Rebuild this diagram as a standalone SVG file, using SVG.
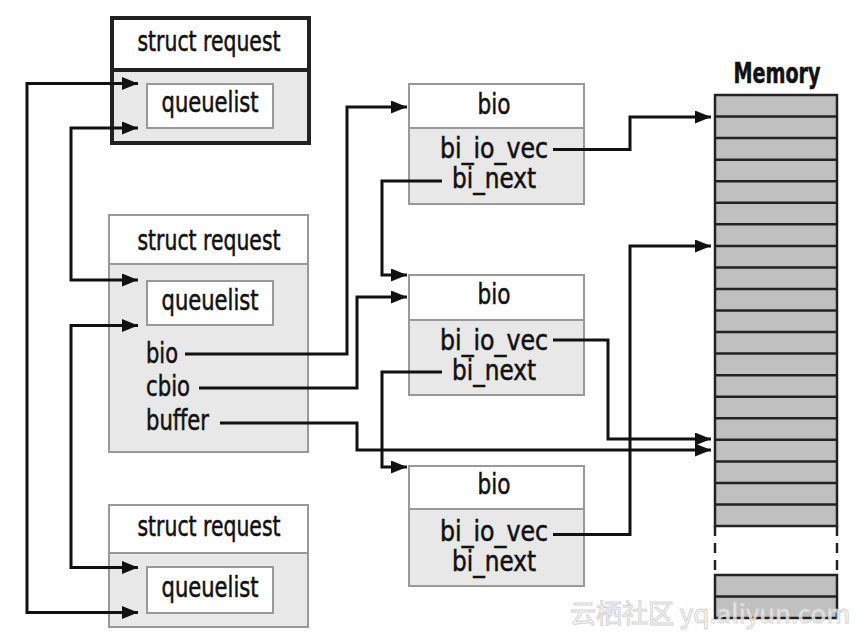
<svg xmlns="http://www.w3.org/2000/svg" width="865" height="638" viewBox="0 0 865 638">
<style>
text{font-family:"Liberation Sans Narrow","DejaVu Sans Condensed","Liberation Sans",sans-serif;font-size:28px;fill:#111;stroke:#111;stroke-width:0.5}
.c{text-anchor:middle}
.hdr{fill:#fff;stroke:#999;stroke-width:2}
.body{fill:#e8e8e8;stroke:#999;stroke-width:2}
.thick{fill:none;stroke:#222;stroke-width:4}
.ql{fill:#fff;stroke:#999;stroke-width:2}
.conn path{fill:none;stroke:#111;stroke-width:3}
.mem{fill:#c0c0c0;stroke:#222;stroke-width:2.5}
.row{stroke:#222;stroke-width:2.5}
.wm{font-family:"Noto Sans CJK SC","Liberation Sans",sans-serif;font-size:26px;fill:#fff;fill-opacity:0.7;stroke:#d4d4d4;stroke-width:1}
</style>
<defs>
<marker id="ah" markerUnits="userSpaceOnUse" markerWidth="17" markerHeight="13" refX="16" refY="6.5" orient="auto-start-reverse" viewBox="0 0 17 13">
<path d="M0,0 L16,6.5 L0,13 z" fill="#111"/>
</marker>
</defs>
<rect width="865" height="638" fill="#fff"/>

<g id="req1">
<rect class="hdr" x="112" y="18" width="197" height="52"/>
<rect class="body" x="112" y="70" width="197" height="73"/>
<rect class="thick" x="112" y="18" width="197" height="125"/>
<line x1="112" y1="70" x2="309" y2="70" stroke="#222" stroke-width="4"/>
<text class="c" x="209" y="51" textLength="143" lengthAdjust="spacingAndGlyphs">struct request</text>
<rect class="ql" x="147" y="84" width="126" height="44"/>
<text class="c" x="210" y="112" textLength="97" lengthAdjust="spacingAndGlyphs">queuelist</text>
</g>

<g id="req2">
<rect class="hdr" x="109" y="215" width="199" height="49"/>
<rect class="body" x="109" y="264" width="199" height="188"/>
<text class="c" x="209" y="250" textLength="143" lengthAdjust="spacingAndGlyphs">struct request</text>
<rect class="ql" x="147" y="281" width="126" height="44"/>
<text class="c" x="210" y="310" textLength="97" lengthAdjust="spacingAndGlyphs">queuelist</text>
<text x="146" y="363" textLength="32" lengthAdjust="spacingAndGlyphs">bio</text>
<text x="146" y="396" textLength="44" lengthAdjust="spacingAndGlyphs">cbio</text>
<text x="146" y="430" textLength="63" lengthAdjust="spacingAndGlyphs">buffer</text>
</g>

<g id="req3">
<rect class="hdr" x="109" y="505" width="199" height="48"/>
<rect class="body" x="109" y="553" width="199" height="74"/>
<text class="c" x="209" y="536" textLength="143" lengthAdjust="spacingAndGlyphs">struct request</text>
<rect class="ql" x="147" y="567" width="126" height="46"/>
<text class="c" x="210" y="597" textLength="97" lengthAdjust="spacingAndGlyphs">queuelist</text>
</g>

<g id="bio1">
<rect class="hdr" x="409" y="84" width="175" height="44"/>
<rect class="body" x="409" y="128" width="175" height="76"/>
<text class="c" x="494" y="114" textLength="33" lengthAdjust="spacingAndGlyphs">bio</text>
<text class="c" x="494" y="158" textLength="108" lengthAdjust="spacingAndGlyphs">bi_io_vec</text>
<text class="c" x="494" y="188" textLength="84" lengthAdjust="spacingAndGlyphs">bi_next</text>
</g>

<g id="bio2">
<rect class="hdr" x="409" y="275" width="175" height="45"/>
<rect class="body" x="409" y="320" width="175" height="75"/>
<text class="c" x="494" y="304" textLength="33" lengthAdjust="spacingAndGlyphs">bio</text>
<text class="c" x="494" y="350" textLength="108" lengthAdjust="spacingAndGlyphs">bi_io_vec</text>
<text class="c" x="494" y="380" textLength="84" lengthAdjust="spacingAndGlyphs">bi_next</text>
</g>

<g id="bio3">
<rect class="hdr" x="409" y="466" width="175" height="43"/>
<rect class="body" x="409" y="509" width="175" height="77"/>
<text class="c" x="494" y="494" textLength="33" lengthAdjust="spacingAndGlyphs">bio</text>
<text class="c" x="494" y="541" textLength="108" lengthAdjust="spacingAndGlyphs">bi_io_vec</text>
<text class="c" x="494" y="571" textLength="84" lengthAdjust="spacingAndGlyphs">bi_next</text>
</g>

<g id="memory">
<text class="c" x="777" y="83" font-weight="bold" font-size="26" fill="#333" stroke="none" textLength="87" lengthAdjust="spacingAndGlyphs">Memory</text>
<rect class="mem" x="715" y="95" width="122" height="431"/>
<path class="row" d="M715,116.6H837M715,138.1H837M715,159.7H837M715,181.2H837M715,202.8H837M715,224.3H837M715,245.9H837M715,267.4H837M715,289H837M715,310.5H837M715,332.1H837M715,353.6H837M715,375.2H837M715,396.7H837M715,418.3H837M715,439.8H837M715,461.4H837M715,482.9H837M715,504.5H837"/>
<path d="M715,526V570M837,526V570" stroke="#222" stroke-width="2.5" stroke-dasharray="10,7" fill="none"/>
<rect class="mem" x="715" y="575" width="122" height="43"/>
<path class="row" d="M715,596.5H837"/>
</g>

<g id="connectors" class="conn">
<path d="M138,83.5H27V612.5H138" marker-start="url(#ah)" marker-end="url(#ah)"/>
<path d="M138,128H71V280H138" marker-start="url(#ah)" marker-end="url(#ah)"/>
<path d="M138,325.5H71V567.5H138" marker-start="url(#ah)" marker-end="url(#ah)"/>
<path d="M185,354H347V107H407" marker-end="url(#ah)"/>
<path d="M199,388H357V297H407" marker-end="url(#ah)"/>
<path d="M220,423H357V450H711" marker-end="url(#ah)"/>
<path d="M553,149.5H630V117H711" marker-end="url(#ah)"/>
<path d="M442,181H382V275H407" marker-end="url(#ah)"/>
<path d="M553,340H608V439H711" marker-end="url(#ah)"/>
<path d="M442,372H382V467H407" marker-end="url(#ah)"/>
<path d="M553,534.5H630V246H711" marker-end="url(#ah)"/>
</g>

<text class="wm" x="570" y="623">云栖社区 yq.aliyun.com</text>
</svg>
